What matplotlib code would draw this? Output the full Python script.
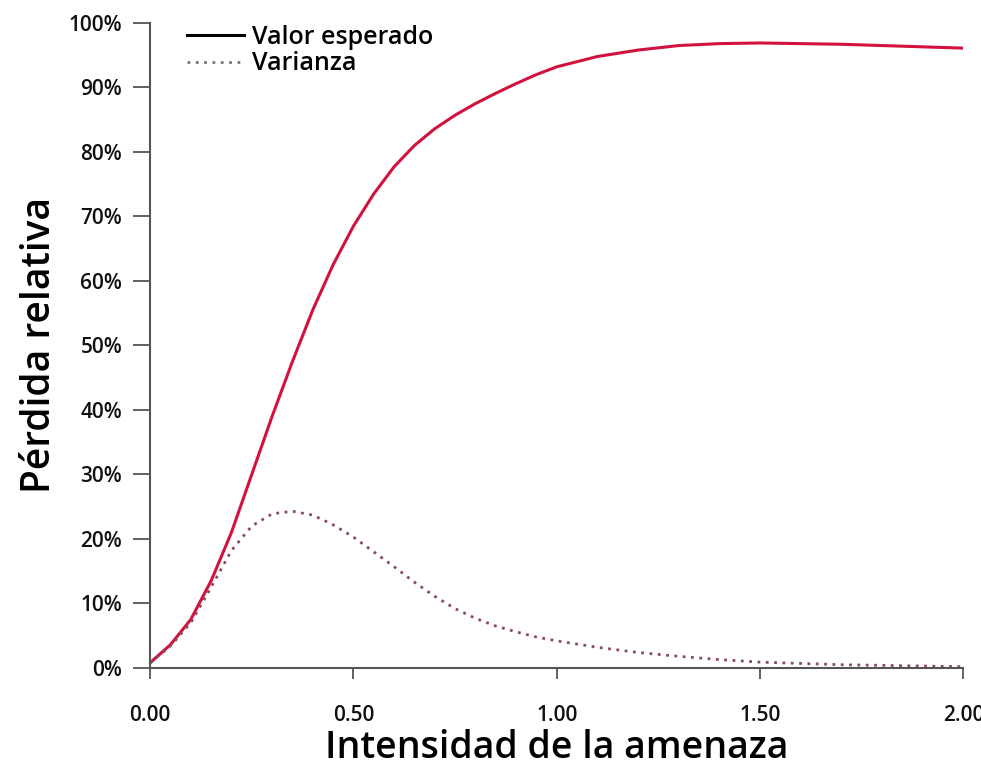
import matplotlib
matplotlib.use('Agg')
import matplotlib.pyplot as plt
from matplotlib.lines import Line2D
from matplotlib.ticker import FuncFormatter
import numpy as np

plt.rcParams['font.family'] = ['Open Sans', 'DejaVu Sans']
plt.rcParams['font.weight'] = 'semibold'

# intensidad de la amenaza
intensidad = [0.00, 0.05, 0.10, 0.15, 0.20, 0.25, 0.30, 0.35, 0.40, 0.45,
              0.50, 0.55, 0.60, 0.65, 0.70, 0.75, 0.80, 0.85, 0.90, 0.95,
              1.00, 1.10, 1.20, 1.30, 1.40, 1.50, 1.60, 1.70, 1.80, 1.90, 2.00]
# perdida relativa esperada
valor_esperado = [0.008, 0.036, 0.075, 0.135, 0.210, 0.300, 0.390, 0.475, 0.555, 0.625,
                  0.685, 0.735, 0.777, 0.810, 0.836, 0.857, 0.875, 0.891, 0.906, 0.920,
                  0.932, 0.948, 0.958, 0.965, 0.968, 0.969, 0.968, 0.967, 0.965, 0.963, 0.961]
# varianza de la perdida
varianza = [0.008, 0.034, 0.070, 0.125, 0.182, 0.220, 0.239, 0.243, 0.237, 0.222,
            0.203, 0.180, 0.157, 0.133, 0.111, 0.092, 0.077, 0.065, 0.056, 0.048,
            0.042, 0.032, 0.024, 0.018, 0.013, 0.009, 0.007, 0.005, 0.004, 0.003, 0.002]

rojo = '#d2123e'
gris = '#555555'

fig = plt.figure(figsize=(9.81, 7.66), dpi=100)
ax = fig.add_axes([0.153, 0.128, 0.829, 0.842])

ax.plot(intensidad, valor_esperado, color=rojo, lw=2.2, solid_joinstyle='round')
ax.plot(intensidad, varianza, color='#8a4a5c', lw=2.0, ls=(0, (1, 2.0)))

ax.set_xlim(0, 2.0)
ax.set_ylim(0, 1.0)
ax.set_xticks([0, 0.5, 1.0, 1.5, 2.0])
ax.set_yticks(np.arange(0, 1.01, 0.1))
ax.xaxis.set_major_formatter(FuncFormatter(lambda v, p: f'{v:.2f}'))
ax.yaxis.set_major_formatter(FuncFormatter(lambda v, p: f'{v*100:.0f}%'))

for s in ['top', 'right']:
    ax.spines[s].set_visible(False)
for s in ['left', 'bottom']:
    ax.spines[s].set_color(gris)
    ax.spines[s].set_linewidth(1.5)
ax.tick_params(direction='out', width=1.3, color=gris,
               labelsize=15, labelcolor='#111111')
ax.tick_params(axis='x', length=8, pad=19)
ax.tick_params(axis='y', length=12, pad=8)

ax.set_xlabel('Intensidad de la amenaza', fontsize=27, fontweight='semibold', labelpad=2)
ax.set_ylabel('Pérdida relativa', fontsize=28, fontweight='semibold', labelpad=6)

handles = [Line2D([], [], color='black', lw=2.2),
           Line2D([], [], color='#777777', lw=2.0, ls=(0, (1, 2.0)))]
ax.legend(handles, ['Valor esperado', 'Varianza'], loc='upper left',
          bbox_to_anchor=(0.033, 1.012), frameon=False, fontsize=18,
          handlelength=2.3, handletextpad=0.3, labelspacing=0.05,
          borderaxespad=0)

fig.savefig('out.png', dpi=100)
